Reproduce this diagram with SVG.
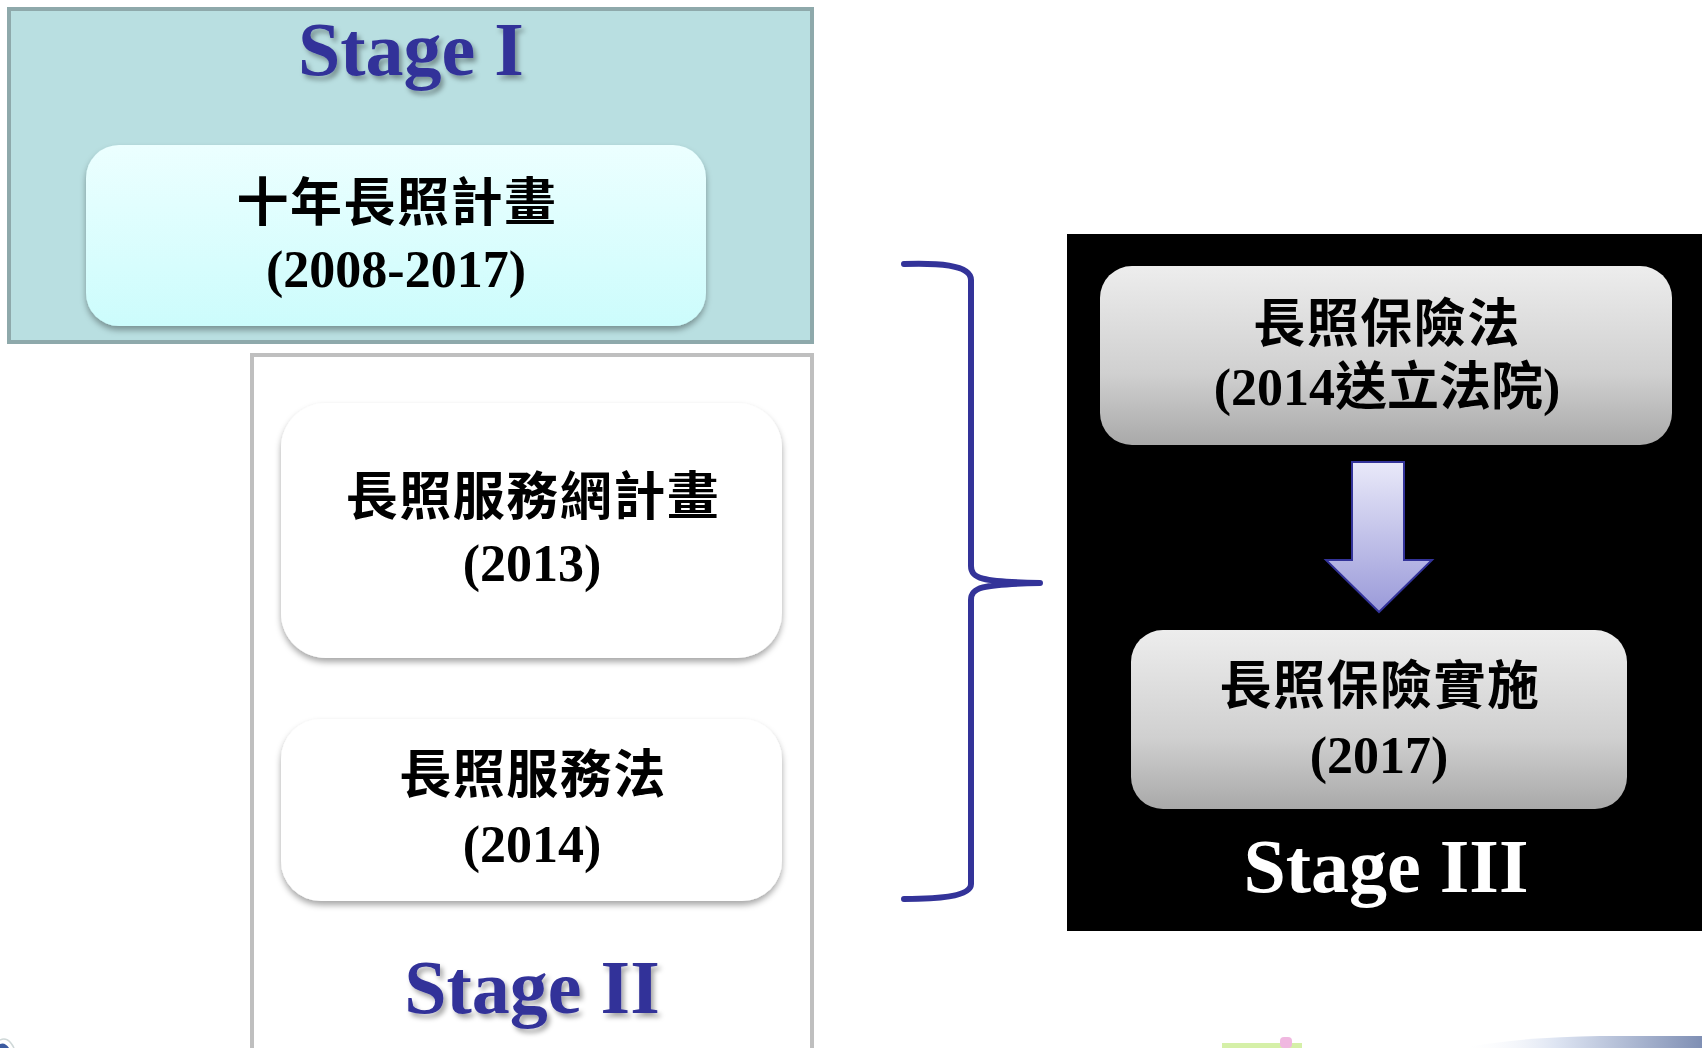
<svg xmlns="http://www.w3.org/2000/svg" width="1702" height="1048" viewBox="0 0 1702 1048">
<defs>
<style>
.stage{font-family:"Liberation Serif","Times New Roman",serif;font-weight:bold;font-size:76px;text-anchor:middle}
.blue{fill:#333399}
.lbl{font-family:"Liberation Serif","Noto Sans CJK TC","Noto Sans CJK SC",serif;font-weight:bold;font-size:52px;text-anchor:middle;fill:#000}
.cjk{letter-spacing:1.5px}
.brace{fill:none;stroke:#333399;stroke-width:6;stroke-linecap:round;stroke-linejoin:round}
</style>
<linearGradient id="gCyan" x1="0" y1="0" x2="0" y2="1">
<stop offset="0" stop-color="#ecffff"/>
<stop offset="1" stop-color="#ccfcfc"/>
</linearGradient>
<linearGradient id="gGray" x1="0" y1="0" x2="0" y2="1">
<stop offset="0" stop-color="#ededed"/>
<stop offset="0.6" stop-color="#d0d0d0"/>
<stop offset="1" stop-color="#a9a9a9"/>
</linearGradient>
<linearGradient id="gArrow" x1="0" y1="0" x2="0" y2="1">
<stop offset="0" stop-color="#e9e9f9"/>
<stop offset="1" stop-color="#9a9ad9"/>
</linearGradient>
<linearGradient id="gStrip" x1="0" y1="0" x2="1" y2="0">
<stop offset="0" stop-color="#ffffff" stop-opacity="0"/>
<stop offset="0.4" stop-color="#dde4f2"/>
<stop offset="1" stop-color="#7f8fb4"/>
</linearGradient>
<filter id="sh" x="-10%" y="-10%" width="120%" height="130%">
<feDropShadow dx="0" dy="4" stdDeviation="3" flood-color="#000" flood-opacity="0.35"/>
</filter>
<filter id="tsh" x="-10%" y="-20%" width="120%" height="150%">
<feDropShadow dx="3" dy="4" stdDeviation="2.5" flood-color="#000" flood-opacity="0.35"/>
</filter>
</defs>
<rect width="1702" height="1048" fill="#ffffff"/>

<!-- background fragments at bottom edge -->
<g id="fragments">
<path d="M0 1040 Q8 1036 14 1048" fill="none" stroke="#cfd8d8" stroke-width="1.5"/>
<path d="M0 1044 Q5 1042 9 1048 L0 1048 Z" fill="#3b5aa0"/>
<rect x="1222" y="1043" width="80" height="5" fill="#d5f0a8"/>
<rect x="1280" y="1037" width="12" height="11" rx="4" fill="#f0b8e0"/>
<path d="M1460 1048 Q1520 1037 1600 1036 L1702 1036 L1702 1048 Z" fill="url(#gStrip)"/>
</g>

<g id="stage1">
<rect x="9" y="9" width="803" height="333" fill="#b9dfe1" stroke="#8ea9ab" stroke-width="4"/>
<text class="stage blue" x="411" y="75" filter="url(#tsh)">Stage I</text>
</g>

<g id="plan10">
<rect x="86" y="145" width="620" height="181" rx="33" fill="url(#gCyan)" filter="url(#sh)"/>
<text class="lbl cjk" x="397" y="221">十年長照計畫</text>
<text class="lbl" x="396" y="287">(2008-2017)</text>
</g>

<g id="stage2">
<rect x="252" y="355" width="560" height="720" fill="#ffffff" stroke="#bfbfbf" stroke-width="4"/>
<text class="stage blue" x="532" y="1013" filter="url(#tsh)">Stage II</text>
</g>

<g id="network">
<rect x="281" y="403" width="501" height="255" rx="45" fill="#ffffff" filter="url(#sh)"/>
<text class="lbl cjk" x="533" y="515">長照服務網計畫</text>
<text class="lbl" x="532" y="581">(2013)</text>
</g>

<g id="servicelaw">
<rect x="281" y="719" width="501" height="182" rx="40" fill="#ffffff" filter="url(#sh)"/>
<text class="lbl cjk" x="533" y="793">長照服務法</text>
<text class="lbl" x="532" y="862">(2014)</text>
</g>

<g id="stage3">
<rect x="1067" y="234" width="640" height="697" fill="#000000"/>
<text class="stage" x="1386" y="892" fill="#ffffff">Stage III</text>
</g>

<g id="inslaw">
<rect x="1100" y="266" width="572" height="179" rx="32" fill="url(#gGray)"/>
<text class="lbl cjk" x="1387" y="342">長照保險法</text>
<text class="lbl" x="1387" y="405">(2014送立法院)</text>
</g>

<g id="insimpl">
<rect x="1131" y="630" width="496" height="179" rx="32" fill="url(#gGray)"/>
<text class="lbl cjk" x="1380" y="704">長照保險實施</text>
<text class="lbl" x="1379" y="773">(2017)</text>
</g>

<g id="connectors">
<path d="M1352 462 L1404 462 L1404 560 L1432 560 L1379 612 L1326 560 L1352 560 Z" fill="url(#gArrow)" stroke="#333399" stroke-width="2" stroke-linejoin="miter"/>
<path class="brace" d="M904 264 C935 263 971 264 971 280 L971 566 C971 578 980 582 1040 583 C980 584 971 588 971 600 L971 884 C971 897 935 899 904 899"/>
</g>
</svg>
